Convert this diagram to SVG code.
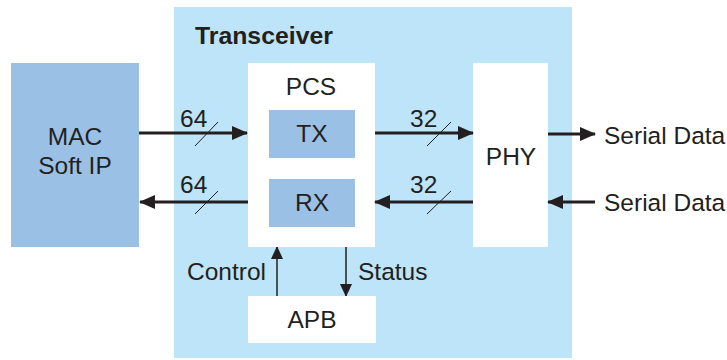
<svg xmlns="http://www.w3.org/2000/svg" width="727" height="360" viewBox="0 0 727 360">
<defs>
<style>
text{font-family:"Liberation Sans",Arial,sans-serif;font-size:24.5px;fill:#231f20}
.b{font-weight:bold;font-size:24.8px}
.m{text-anchor:middle}
.bus{stroke:#231f20;stroke-width:3;fill:none}
.thin{stroke:#231f20;stroke-width:1.5;fill:none}
.sl{stroke:#231f20;stroke-width:1;fill:none}
.blk{fill:#9bc0e5}
.wh{fill:#ffffff}
</style>
<marker id="ah" markerWidth="16" markerHeight="14" refX="15" refY="7" orient="auto" markerUnits="userSpaceOnUse">
<path d="M0,0 L16,7 L0,14 Z" fill="#231f20"/>
</marker>
<marker id="ahs" markerWidth="12" markerHeight="12" refX="12" refY="6" orient="auto" markerUnits="userSpaceOnUse">
<path d="M0,0 L13,6 L0,12 Z" fill="#231f20"/>
</marker>
</defs>
<rect width="727" height="360" fill="#ffffff"/>
<g id="transceiver">
<rect x="174" y="7" width="398" height="351" fill="#bde4f8"/>
<text class="b" x="195" y="44">Transceiver</text>
</g>
<g id="mac">
<rect class="blk" x="11" y="63" width="128" height="184"/>
<text class="m" x="75" y="145">MAC</text>
<text class="m" x="75" y="174">Soft IP</text>
</g>
<g id="pcs">
<rect class="wh" x="248" y="63" width="127" height="184"/>
<text class="m" x="311" y="95">PCS</text>
</g>
<g id="tx">
<rect class="blk" x="269" y="110" width="86" height="48"/>
<text class="m" x="312" y="142">TX</text>
</g>
<g id="rx">
<rect class="blk" x="269" y="179" width="86" height="48"/>
<text class="m" x="312" y="211">RX</text>
</g>
<g id="phy">
<rect class="wh" x="473" y="63" width="75" height="184"/>
<text class="m" x="511" y="165">PHY</text>
</g>
<g id="apb">
<rect class="wh" x="248" y="296" width="128" height="47"/>
<text class="m" x="312" y="328">APB</text>
</g>
<g id="connectors">
<line class="bus" x1="139" y1="133" x2="247" y2="133" marker-end="url(#ah)"/>
<line class="sl" x1="195" y1="146" x2="218" y2="122"/>
<text x="180" y="127">64</text>
<line class="bus" x1="248" y1="202" x2="140" y2="202" marker-end="url(#ah)"/>
<line class="sl" x1="195" y1="214" x2="218" y2="191"/>
<text x="180" y="193">64</text>
<line class="bus" x1="375" y1="133" x2="473" y2="133" marker-end="url(#ah)"/>
<line class="sl" x1="427" y1="146" x2="451" y2="122"/>
<text x="410" y="127">32</text>
<line class="bus" x1="473" y1="202" x2="375" y2="202" marker-end="url(#ah)"/>
<line class="sl" x1="427" y1="214" x2="451" y2="191"/>
<text x="410" y="193">32</text>
<line class="bus" x1="548" y1="134" x2="595" y2="134" marker-end="url(#ah)"/>
<text x="604" y="144">Serial Data</text>
<line class="bus" x1="595" y1="202" x2="548" y2="202" marker-end="url(#ah)"/>
<text x="604" y="211">Serial Data</text>
<line class="thin" x1="277" y1="296" x2="277" y2="247" marker-end="url(#ahs)"/>
<text x="187" y="280">Control</text>
<line class="thin" x1="346" y1="247" x2="346" y2="296" marker-end="url(#ahs)"/>
<text x="358" y="280">Status</text>
</g>
</svg>
